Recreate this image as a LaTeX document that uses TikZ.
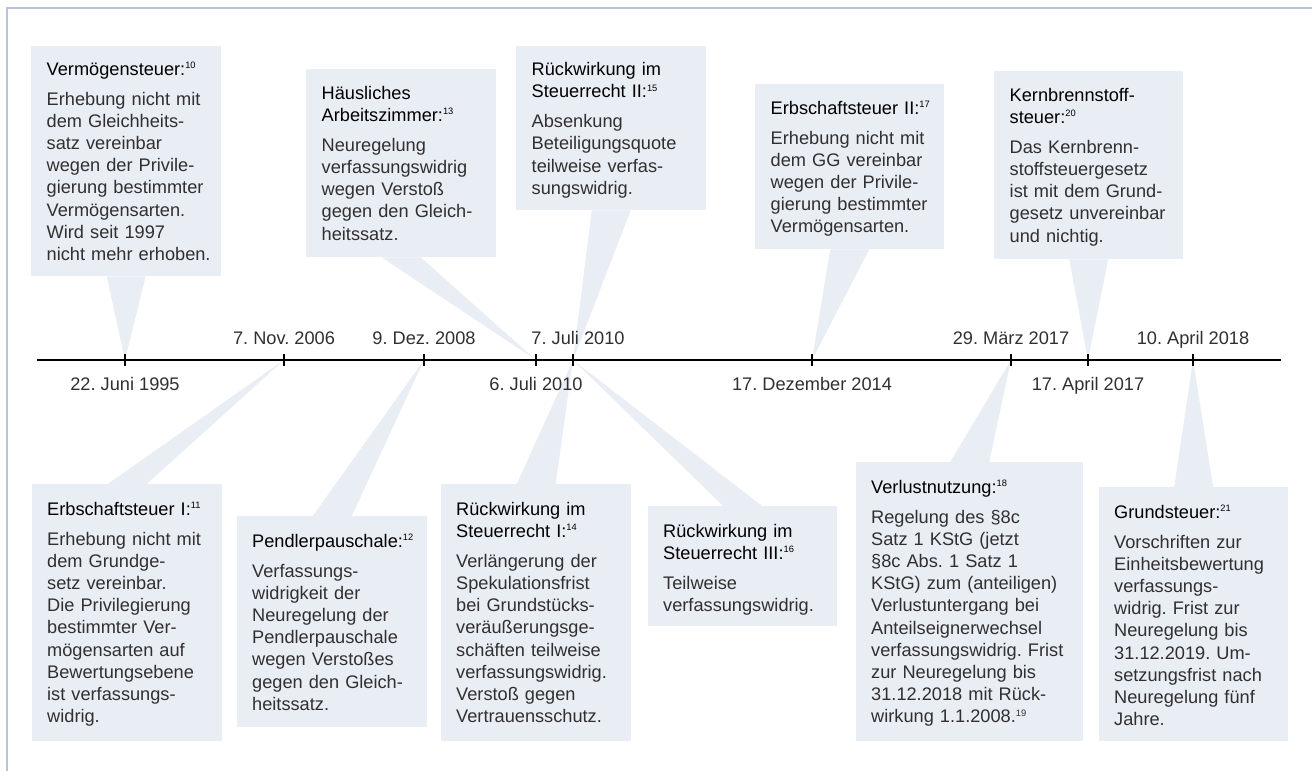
\documentclass[tikz,border=0pt]{standalone}
\usepackage{fontspec}
\setmainfont{Liberation Sans}
\frenchspacing
\definecolor{boxfill}{RGB}{233,237,244}
\definecolor{frameline}{RGB}{184,196,222}
\definecolor{textgray}{RGB}{48,48,48}
\newcommand{\fnote}[1]{\raisebox{6.3pt}{\fontsize{9.3}{9.3}\selectfont #1}}
\newcommand{\startbody}{\\[7.8pt]\color{textgray}}
\tikzset{
  box/.style={fill=boxfill, inner sep=0pt, anchor=north west},
  boxtext/.style={anchor=base west, inner sep=0pt, align=left, text width=205pt,
    font=\fontsize{18.2}{22.2}\selectfont},
  datelabel/.style={anchor=base, inner sep=0pt, text=textgray,
    font=\fontsize{18.2}{22.2}\selectfont},
}

\begin{document}
\begin{tikzpicture}[x=1pt,y=-1pt]
    \useasboundingbox (0,0) rectangle (1312,771);
    % set coordinates
    \coordinate (F0) at (7,771);
    \coordinate (F1) at (7,8);
    \coordinate (F2) at (1312,8);
    \coordinate (A0) at (37,360);
    \coordinate (A1) at (1281,360);
    \coordinate (t1995) at (125,360);
    \coordinate (t2006) at (284,360);
    \coordinate (t2008) at (424,360);
    \coordinate (t2010a) at (536,360);
    \coordinate (t2010b) at (573,360);
    \coordinate (t2014) at (812,360);
    \coordinate (t2017a) at (1011,360);
    \coordinate (t2017b) at (1088,360);
    \coordinate (t2018) at (1193,360);
    % frame
    \draw [frameline, line width=1.2pt] (F0) -- (F1) -- (F2);
    % boxes above the axis
    \node [box, minimum width=190pt, minimum height=230pt] (verm) at (31,46) {};
    \node [box, minimum width=190pt, minimum height=188pt] (arbz) at (306,69) {};
    \node [box, minimum width=190pt, minimum height=164pt] (rueck2) at (516,46) {};
    \node [box, minimum width=189pt, minimum height=165pt] (erb2) at (755,84) {};
    \node [box, minimum width=189pt, minimum height=188pt] (kern) at (994,71) {};
    % boxes below the axis
    \node [box, minimum width=190pt, minimum height=257pt] (erb1) at (32,484) {};
    \node [box, minimum width=190pt, minimum height=211pt] (pendl) at (237,516) {};
    \node [box, minimum width=190pt, minimum height=257pt] (rueck1) at (441,484) {};
    \node [box, minimum width=189pt, minimum height=120pt] (rueck3) at (648,506) {};
    \node [box, minimum width=227pt, minimum height=279pt] (verl) at (856,462) {};
    \node [box, minimum width=189pt, minimum height=254pt] (grund) at (1099,487) {};
    % pointers
    \fill [boxfill] ([xshift=-19.5pt]verm.south) -- ([xshift=19.5pt]verm.south) -- (t1995) -- cycle;
    \fill [boxfill] ([xshift=-19.5pt]arbz.south) -- ([xshift=19.5pt]arbz.south) -- (t2010a) -- cycle;
    \fill [boxfill] ([xshift=-19.5pt]rueck2.south) -- ([xshift=19.5pt]rueck2.south) -- (t2010b) -- cycle;
    \fill [boxfill] ([xshift=-19.5pt]erb2.south) -- ([xshift=19.5pt]erb2.south) -- (t2014) -- cycle;
    \fill [boxfill] ([xshift=-19.5pt]kern.south) -- ([xshift=19.5pt]kern.south) -- (t2017b) -- cycle;
    \fill [boxfill] ([xshift=-19.5pt]erb1.north) -- ([xshift=19.5pt]erb1.north) -- (t2006) -- cycle;
    \fill [boxfill] ([xshift=-19.5pt]pendl.north) -- ([xshift=19.5pt]pendl.north) -- (t2008) -- cycle;
    \fill [boxfill] ([xshift=-19.5pt]rueck1.north) -- ([xshift=19.5pt]rueck1.north) -- (t2010b) -- cycle;
    \fill [boxfill] ([xshift=-19.5pt]rueck3.north) -- ([xshift=19.5pt]rueck3.north) -- (t2010b) -- cycle;
    \fill [boxfill] ([xshift=-19.5pt]verl.north) -- ([xshift=19.5pt]verl.north) -- (t2017a) -- cycle;
    \fill [boxfill] ([xshift=-19.5pt]grund.north) -- ([xshift=19.5pt]grund.north) -- (t2018) -- cycle;
    % draw axis
    \draw [line width=1.2pt] (A0) -- (A1);
    \foreach \t in {t1995,t2006,t2008,t2010a,t2010b,t2014,t2017a,t2017b,t2018}
      \draw [line width=1.2pt] (\t) ++(0,-6) -- ++(0,12);
    % add labels
    \node [datelabel] (l1995) at ([yshift=-30.7pt]t1995) {22. Juni 1995};
    \node [datelabel] (l2006) at ([yshift=16pt]t2006) {7. Nov. 2006};
    \node [datelabel] (l2008) at ([yshift=16pt]t2008) {9. Dez. 2008};
    \node [datelabel] (l2010a) at ([yshift=-30.7pt]t2010a) {6. Juli 2010};
    \node [datelabel] (l2010b) at ([xshift=5pt,yshift=16pt]t2010b) {7. Juli 2010};
    \node [datelabel] (l2014) at ([yshift=-30.7pt]t2014) {17. Dezember 2014};
    \node [datelabel] (l2017a) at ([yshift=16pt]t2017a) {29. März 2017};
    \node [datelabel] (l2017b) at ([yshift=-30.7pt]t2017b) {17. April 2017};
    \node [datelabel] (l2018) at ([yshift=16pt]t2018) {10. April 2018};
    % texts in the boxes
    \node [boxtext] (verm-t) at ([xshift=15.5pt,yshift=-29pt]verm.north west)
      {Vermögensteuer:\fnote{10}\startbody Erhebung nicht mit\\dem Gleichheits-\\satz vereinbar\\wegen der Privile-\\gierung bestimmter\\Vermögensarten.\\Wird seit 1997\\nicht mehr erhoben.};
    \node [boxtext] (arbz-t) at ([xshift=15.5pt,yshift=-30pt]arbz.north west)
      {Häusliches\\Arbeitszimmer:\fnote{13}\startbody Neuregelung\\verfassungswidrig\\wegen Verstoß\\gegen den Gleich-\\heitssatz.};
    \node [boxtext] (rueck2-t) at ([xshift=15.5pt,yshift=-29.5pt]rueck2.north west)
      {Rückwirkung im\\Steuerrecht II:\fnote{15}\startbody Absenkung\\Beteiligungsquote\\teilweise verfas-\\sungswidrig.};
    \node [boxtext] (erb2-t) at ([xshift=15.5pt,yshift=-30pt]erb2.north west)
      {Erbschaftsteuer II:\fnote{17}\startbody Erhebung nicht mit\\dem GG vereinbar\\wegen der Privile-\\gierung bestimmter\\Vermögensarten.};
    \node [boxtext] (kern-t) at ([xshift=15.5pt,yshift=-30pt]kern.north west)
      {Kernbrennstoff-\\steuer:\fnote{20}\startbody Das Kernbrenn-\\stoffsteuergesetz\\ist mit dem Grund-\\gesetz unvereinbar\\und nichtig.};
    \node [boxtext] (erb1-t) at ([xshift=15pt,yshift=-31pt]erb1.north west)
      {Erbschaftsteuer I:\fnote{11}\startbody Erhebung nicht mit\\dem Grundge-\\setz vereinbar.\\Die Privilegierung\\bestimmter Ver-\\mögensarten auf\\Bewertungsebene\\ist verfassungs-\\widrig.};
    \node [boxtext] (pendl-t) at ([xshift=15pt,yshift=-31pt]pendl.north west)
      {Pendlerpauschale:\fnote{12}\startbody Verfassungs-\\widrigkeit der\\Neuregelung der\\Pendlerpauschale\\wegen Verstoßes\\gegen den Gleich-\\heitssatz.};
    \node [boxtext] (rueck1-t) at ([xshift=15pt,yshift=-31pt]rueck1.north west)
      {Rückwirkung im\\Steuerrecht I:\fnote{14}\startbody Verlängerung der\\Spekulationsfrist\\bei Grundstücks-\\veräußerungsge-\\schäften teilweise\\verfassungswidrig.\\Verstoß gegen\\Vertrauensschutz.};
    \node [boxtext] (rueck3-t) at ([xshift=15pt,yshift=-31pt]rueck3.north west)
      {Rückwirkung im\\Steuerrecht III:\fnote{16}\startbody Teilweise\\verfassungswidrig.};
    \node [boxtext] (verl-t) at ([xshift=15pt,yshift=-31pt]verl.north west)
      {Verlustnutzung:\fnote{18}\startbody Regelung des §8c\\Satz 1 KStG (jetzt\\§8c Abs. 1 Satz 1\\KStG) zum (anteiligen)\\Verlustuntergang bei\\Anteilseignerwechsel\\verfassungswidrig. Frist\\zur Neuregelung bis\\31.12.2018 mit Rück-\\wirkung 1.1.2008.\fnote{19}};
    \node [boxtext] (grund-t) at ([xshift=15pt,yshift=-31pt]grund.north west)
      {Grundsteuer:\fnote{21}\startbody Vorschriften zur\\Einheitsbewertung\\verfassungs-\\widrig. Frist zur\\Neuregelung bis\\31.12.2019. Um-\\setzungsfrist nach\\Neuregelung fünf\\Jahre.};
\end{tikzpicture}
\end{document}
